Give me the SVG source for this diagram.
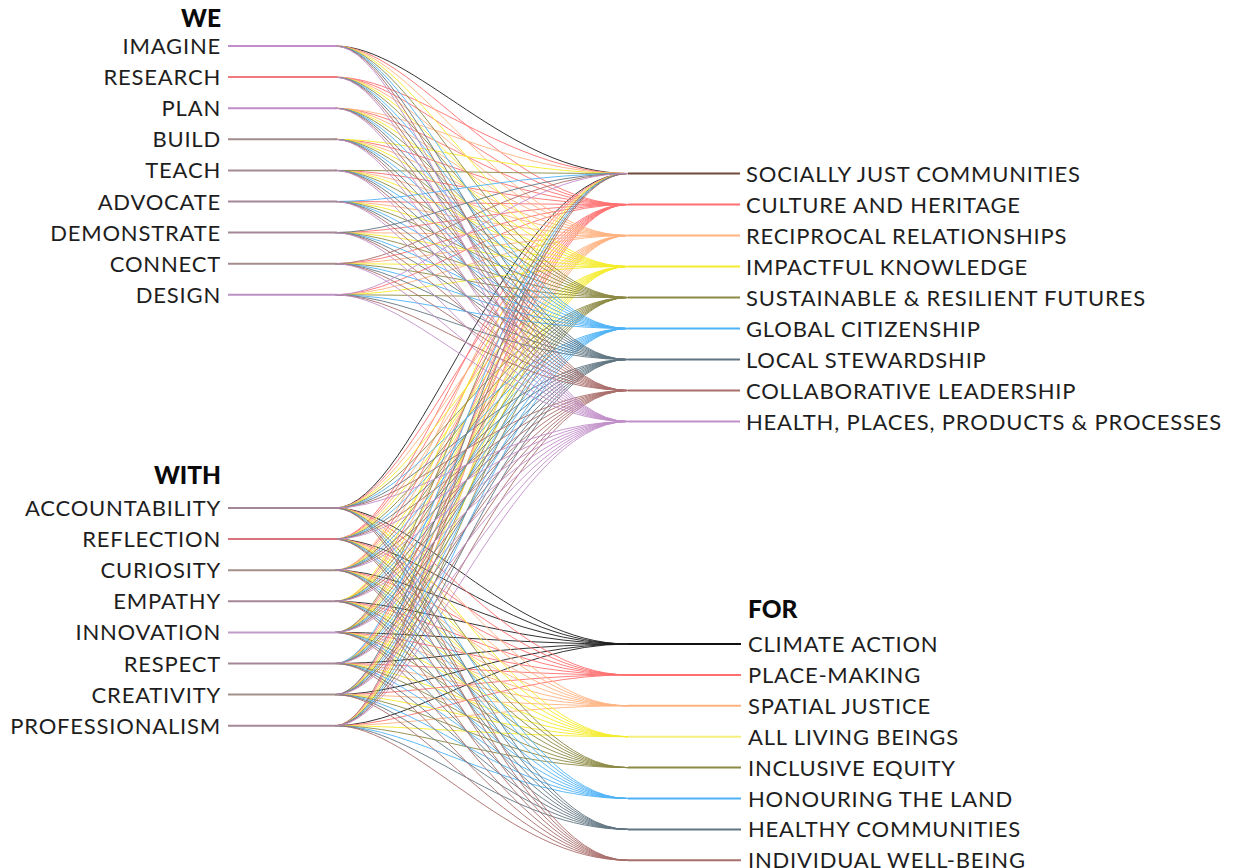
<svg xmlns="http://www.w3.org/2000/svg" width="1238" height="868" viewBox="0 0 1238 868">
<style>
.bg{fill:#ffffff}
.lbl{font-family:Lato,"Liberation Sans",sans-serif;font-size:22px;fill:#1e1e1e;letter-spacing:0.8px}
.hd{font-family:Lato,"Liberation Sans",sans-serif;font-size:24.5px;font-weight:900;fill:#0a0a0a}
.l text{text-anchor:end}
#links path{fill:none;stroke-width:1;stroke-opacity:0.9}
.nl{stroke-width:2;fill:none}
.c0{stroke:#1c1c1c}.c1{stroke:#ff6f6f}.c2{stroke:#ffb27f}.c3{stroke:#f5ec2a}.c4{stroke:#8c8a44}.c5{stroke:#4fb2f7}.c6{stroke:#607582}.c7{stroke:#a86e6a}.c8{stroke:#c18fc9}
</style>
<rect class="bg" width="1238" height="868"/>
<g id="links">
<g class="c0">
<path d="M335 46C415 46 508 173.5 628 173.5"/>
<path d="M335 508C415 508 508 173.5 628 173.5"/>
<path d="M335 508C415 508 508 644 628 644"/>
<path d="M335 539.1C415 539.1 508 644 628 644"/>
<path d="M335 570.2C415 570.2 508 644 628 644"/>
<path d="M335 601.3C415 601.3 508 644 628 644"/>
<path d="M335 632.4C415 632.4 508 644 628 644"/>
<path d="M335 663.5C415 663.5 508 644 628 644"/>
<path d="M335 694.6C415 694.6 508 644 628 644"/>
<path d="M335 725.7C415 725.7 508 644 628 644"/>
</g>
<g class="c1">
<path d="M335 77.1C415 77.1 508 173.5 628 173.5"/>
<path d="M335 539.1C415 539.1 508 173.5 628 173.5"/>
<path d="M335 46C415 46 508 204.5 628 204.5"/>
<path d="M335 77.1C415 77.1 508 204.5 628 204.5"/>
<path d="M335 108.2C415 108.2 508 204.5 628 204.5"/>
<path d="M335 139.3C415 139.3 508 204.5 628 204.5"/>
<path d="M335 170.4C415 170.4 508 204.5 628 204.5"/>
<path d="M335 201.5C415 201.5 508 204.5 628 204.5"/>
<path d="M335 232.6C415 232.6 508 204.5 628 204.5"/>
<path d="M335 263.7C415 263.7 508 204.5 628 204.5"/>
<path d="M335 294.8C415 294.8 508 204.5 628 204.5"/>
<path d="M335 508C415 508 508 204.5 628 204.5"/>
<path d="M335 539.1C415 539.1 508 204.5 628 204.5"/>
<path d="M335 570.2C415 570.2 508 204.5 628 204.5"/>
<path d="M335 601.3C415 601.3 508 204.5 628 204.5"/>
<path d="M335 632.4C415 632.4 508 204.5 628 204.5"/>
<path d="M335 663.5C415 663.5 508 204.5 628 204.5"/>
<path d="M335 694.6C415 694.6 508 204.5 628 204.5"/>
<path d="M335 725.7C415 725.7 508 204.5 628 204.5"/>
<path d="M335 508C415 508 508 674.9 628 674.9"/>
<path d="M335 539.1C415 539.1 508 674.9 628 674.9"/>
<path d="M335 570.2C415 570.2 508 674.9 628 674.9"/>
<path d="M335 601.3C415 601.3 508 674.9 628 674.9"/>
<path d="M335 632.4C415 632.4 508 674.9 628 674.9"/>
<path d="M335 663.5C415 663.5 508 674.9 628 674.9"/>
<path d="M335 694.6C415 694.6 508 674.9 628 674.9"/>
<path d="M335 725.7C415 725.7 508 674.9 628 674.9"/>
</g>
<g class="c2">
<path d="M335 108.2C415 108.2 508 173.5 628 173.5"/>
<path d="M335 570.2C415 570.2 508 173.5 628 173.5"/>
<path d="M335 46C415 46 508 235.5 628 235.5"/>
<path d="M335 77.1C415 77.1 508 235.5 628 235.5"/>
<path d="M335 108.2C415 108.2 508 235.5 628 235.5"/>
<path d="M335 139.3C415 139.3 508 235.5 628 235.5"/>
<path d="M335 170.4C415 170.4 508 235.5 628 235.5"/>
<path d="M335 201.5C415 201.5 508 235.5 628 235.5"/>
<path d="M335 232.6C415 232.6 508 235.5 628 235.5"/>
<path d="M335 263.7C415 263.7 508 235.5 628 235.5"/>
<path d="M335 294.8C415 294.8 508 235.5 628 235.5"/>
<path d="M335 508C415 508 508 235.5 628 235.5"/>
<path d="M335 539.1C415 539.1 508 235.5 628 235.5"/>
<path d="M335 570.2C415 570.2 508 235.5 628 235.5"/>
<path d="M335 601.3C415 601.3 508 235.5 628 235.5"/>
<path d="M335 632.4C415 632.4 508 235.5 628 235.5"/>
<path d="M335 663.5C415 663.5 508 235.5 628 235.5"/>
<path d="M335 694.6C415 694.6 508 235.5 628 235.5"/>
<path d="M335 725.7C415 725.7 508 235.5 628 235.5"/>
<path d="M335 508C415 508 508 705.8 628 705.8"/>
<path d="M335 539.1C415 539.1 508 705.8 628 705.8"/>
<path d="M335 570.2C415 570.2 508 705.8 628 705.8"/>
<path d="M335 601.3C415 601.3 508 705.8 628 705.8"/>
<path d="M335 632.4C415 632.4 508 705.8 628 705.8"/>
<path d="M335 663.5C415 663.5 508 705.8 628 705.8"/>
<path d="M335 694.6C415 694.6 508 705.8 628 705.8"/>
<path d="M335 725.7C415 725.7 508 705.8 628 705.8"/>
</g>
<g class="c3">
<path d="M335 139.3C415 139.3 508 173.5 628 173.5"/>
<path d="M335 601.3C415 601.3 508 173.5 628 173.5"/>
<path d="M335 46C415 46 508 266.5 628 266.5"/>
<path d="M335 77.1C415 77.1 508 266.5 628 266.5"/>
<path d="M335 108.2C415 108.2 508 266.5 628 266.5"/>
<path d="M335 139.3C415 139.3 508 266.5 628 266.5"/>
<path d="M335 170.4C415 170.4 508 266.5 628 266.5"/>
<path d="M335 201.5C415 201.5 508 266.5 628 266.5"/>
<path d="M335 232.6C415 232.6 508 266.5 628 266.5"/>
<path d="M335 263.7C415 263.7 508 266.5 628 266.5"/>
<path d="M335 294.8C415 294.8 508 266.5 628 266.5"/>
<path d="M335 508C415 508 508 266.5 628 266.5"/>
<path d="M335 539.1C415 539.1 508 266.5 628 266.5"/>
<path d="M335 570.2C415 570.2 508 266.5 628 266.5"/>
<path d="M335 601.3C415 601.3 508 266.5 628 266.5"/>
<path d="M335 632.4C415 632.4 508 266.5 628 266.5"/>
<path d="M335 663.5C415 663.5 508 266.5 628 266.5"/>
<path d="M335 694.6C415 694.6 508 266.5 628 266.5"/>
<path d="M335 725.7C415 725.7 508 266.5 628 266.5"/>
<path d="M335 508C415 508 508 736.7 628 736.7"/>
<path d="M335 539.1C415 539.1 508 736.7 628 736.7"/>
<path d="M335 570.2C415 570.2 508 736.7 628 736.7"/>
<path d="M335 601.3C415 601.3 508 736.7 628 736.7"/>
<path d="M335 632.4C415 632.4 508 736.7 628 736.7"/>
<path d="M335 663.5C415 663.5 508 736.7 628 736.7"/>
<path d="M335 694.6C415 694.6 508 736.7 628 736.7"/>
<path d="M335 725.7C415 725.7 508 736.7 628 736.7"/>
</g>
<g class="c4">
<path d="M335 170.4C415 170.4 508 173.5 628 173.5"/>
<path d="M335 632.4C415 632.4 508 173.5 628 173.5"/>
<path d="M335 46C415 46 508 297.5 628 297.5"/>
<path d="M335 77.1C415 77.1 508 297.5 628 297.5"/>
<path d="M335 108.2C415 108.2 508 297.5 628 297.5"/>
<path d="M335 139.3C415 139.3 508 297.5 628 297.5"/>
<path d="M335 170.4C415 170.4 508 297.5 628 297.5"/>
<path d="M335 201.5C415 201.5 508 297.5 628 297.5"/>
<path d="M335 232.6C415 232.6 508 297.5 628 297.5"/>
<path d="M335 263.7C415 263.7 508 297.5 628 297.5"/>
<path d="M335 294.8C415 294.8 508 297.5 628 297.5"/>
<path d="M335 508C415 508 508 297.5 628 297.5"/>
<path d="M335 539.1C415 539.1 508 297.5 628 297.5"/>
<path d="M335 570.2C415 570.2 508 297.5 628 297.5"/>
<path d="M335 601.3C415 601.3 508 297.5 628 297.5"/>
<path d="M335 632.4C415 632.4 508 297.5 628 297.5"/>
<path d="M335 663.5C415 663.5 508 297.5 628 297.5"/>
<path d="M335 694.6C415 694.6 508 297.5 628 297.5"/>
<path d="M335 725.7C415 725.7 508 297.5 628 297.5"/>
<path d="M335 508C415 508 508 767.6 628 767.6"/>
<path d="M335 539.1C415 539.1 508 767.6 628 767.6"/>
<path d="M335 570.2C415 570.2 508 767.6 628 767.6"/>
<path d="M335 601.3C415 601.3 508 767.6 628 767.6"/>
<path d="M335 632.4C415 632.4 508 767.6 628 767.6"/>
<path d="M335 663.5C415 663.5 508 767.6 628 767.6"/>
<path d="M335 694.6C415 694.6 508 767.6 628 767.6"/>
<path d="M335 725.7C415 725.7 508 767.6 628 767.6"/>
</g>
<g class="c5">
<path d="M335 201.5C415 201.5 508 173.5 628 173.5"/>
<path d="M335 663.5C415 663.5 508 173.5 628 173.5"/>
<path d="M335 46C415 46 508 328.5 628 328.5"/>
<path d="M335 77.1C415 77.1 508 328.5 628 328.5"/>
<path d="M335 108.2C415 108.2 508 328.5 628 328.5"/>
<path d="M335 139.3C415 139.3 508 328.5 628 328.5"/>
<path d="M335 170.4C415 170.4 508 328.5 628 328.5"/>
<path d="M335 201.5C415 201.5 508 328.5 628 328.5"/>
<path d="M335 232.6C415 232.6 508 328.5 628 328.5"/>
<path d="M335 263.7C415 263.7 508 328.5 628 328.5"/>
<path d="M335 294.8C415 294.8 508 328.5 628 328.5"/>
<path d="M335 508C415 508 508 328.5 628 328.5"/>
<path d="M335 539.1C415 539.1 508 328.5 628 328.5"/>
<path d="M335 570.2C415 570.2 508 328.5 628 328.5"/>
<path d="M335 601.3C415 601.3 508 328.5 628 328.5"/>
<path d="M335 632.4C415 632.4 508 328.5 628 328.5"/>
<path d="M335 663.5C415 663.5 508 328.5 628 328.5"/>
<path d="M335 694.6C415 694.6 508 328.5 628 328.5"/>
<path d="M335 725.7C415 725.7 508 328.5 628 328.5"/>
<path d="M335 508C415 508 508 798.5 628 798.5"/>
<path d="M335 539.1C415 539.1 508 798.5 628 798.5"/>
<path d="M335 570.2C415 570.2 508 798.5 628 798.5"/>
<path d="M335 601.3C415 601.3 508 798.5 628 798.5"/>
<path d="M335 632.4C415 632.4 508 798.5 628 798.5"/>
<path d="M335 663.5C415 663.5 508 798.5 628 798.5"/>
<path d="M335 694.6C415 694.6 508 798.5 628 798.5"/>
<path d="M335 725.7C415 725.7 508 798.5 628 798.5"/>
</g>
<g class="c6">
<path d="M335 232.6C415 232.6 508 173.5 628 173.5"/>
<path d="M335 694.6C415 694.6 508 173.5 628 173.5"/>
<path d="M335 46C415 46 508 359.5 628 359.5"/>
<path d="M335 77.1C415 77.1 508 359.5 628 359.5"/>
<path d="M335 108.2C415 108.2 508 359.5 628 359.5"/>
<path d="M335 139.3C415 139.3 508 359.5 628 359.5"/>
<path d="M335 170.4C415 170.4 508 359.5 628 359.5"/>
<path d="M335 201.5C415 201.5 508 359.5 628 359.5"/>
<path d="M335 232.6C415 232.6 508 359.5 628 359.5"/>
<path d="M335 263.7C415 263.7 508 359.5 628 359.5"/>
<path d="M335 294.8C415 294.8 508 359.5 628 359.5"/>
<path d="M335 508C415 508 508 359.5 628 359.5"/>
<path d="M335 539.1C415 539.1 508 359.5 628 359.5"/>
<path d="M335 570.2C415 570.2 508 359.5 628 359.5"/>
<path d="M335 601.3C415 601.3 508 359.5 628 359.5"/>
<path d="M335 632.4C415 632.4 508 359.5 628 359.5"/>
<path d="M335 663.5C415 663.5 508 359.5 628 359.5"/>
<path d="M335 694.6C415 694.6 508 359.5 628 359.5"/>
<path d="M335 725.7C415 725.7 508 359.5 628 359.5"/>
<path d="M335 508C415 508 508 829.4 628 829.4"/>
<path d="M335 539.1C415 539.1 508 829.4 628 829.4"/>
<path d="M335 570.2C415 570.2 508 829.4 628 829.4"/>
<path d="M335 601.3C415 601.3 508 829.4 628 829.4"/>
<path d="M335 632.4C415 632.4 508 829.4 628 829.4"/>
<path d="M335 663.5C415 663.5 508 829.4 628 829.4"/>
<path d="M335 694.6C415 694.6 508 829.4 628 829.4"/>
<path d="M335 725.7C415 725.7 508 829.4 628 829.4"/>
</g>
<g class="c7">
<path d="M335 263.7C415 263.7 508 173.5 628 173.5"/>
<path d="M335 725.7C415 725.7 508 173.5 628 173.5"/>
<path d="M335 46C415 46 508 390.5 628 390.5"/>
<path d="M335 77.1C415 77.1 508 390.5 628 390.5"/>
<path d="M335 108.2C415 108.2 508 390.5 628 390.5"/>
<path d="M335 139.3C415 139.3 508 390.5 628 390.5"/>
<path d="M335 170.4C415 170.4 508 390.5 628 390.5"/>
<path d="M335 201.5C415 201.5 508 390.5 628 390.5"/>
<path d="M335 232.6C415 232.6 508 390.5 628 390.5"/>
<path d="M335 263.7C415 263.7 508 390.5 628 390.5"/>
<path d="M335 294.8C415 294.8 508 390.5 628 390.5"/>
<path d="M335 508C415 508 508 390.5 628 390.5"/>
<path d="M335 539.1C415 539.1 508 390.5 628 390.5"/>
<path d="M335 570.2C415 570.2 508 390.5 628 390.5"/>
<path d="M335 601.3C415 601.3 508 390.5 628 390.5"/>
<path d="M335 632.4C415 632.4 508 390.5 628 390.5"/>
<path d="M335 663.5C415 663.5 508 390.5 628 390.5"/>
<path d="M335 694.6C415 694.6 508 390.5 628 390.5"/>
<path d="M335 725.7C415 725.7 508 390.5 628 390.5"/>
<path d="M335 508C415 508 508 860.3 628 860.3"/>
<path d="M335 539.1C415 539.1 508 860.3 628 860.3"/>
<path d="M335 570.2C415 570.2 508 860.3 628 860.3"/>
<path d="M335 601.3C415 601.3 508 860.3 628 860.3"/>
<path d="M335 632.4C415 632.4 508 860.3 628 860.3"/>
<path d="M335 663.5C415 663.5 508 860.3 628 860.3"/>
<path d="M335 694.6C415 694.6 508 860.3 628 860.3"/>
<path d="M335 725.7C415 725.7 508 860.3 628 860.3"/>
</g>
<g class="c8">
<path d="M335 294.8C415 294.8 508 173.5 628 173.5"/>
<path d="M335 46C415 46 508 421.5 628 421.5"/>
<path d="M335 77.1C415 77.1 508 421.5 628 421.5"/>
<path d="M335 108.2C415 108.2 508 421.5 628 421.5"/>
<path d="M335 139.3C415 139.3 508 421.5 628 421.5"/>
<path d="M335 170.4C415 170.4 508 421.5 628 421.5"/>
<path d="M335 201.5C415 201.5 508 421.5 628 421.5"/>
<path d="M335 232.6C415 232.6 508 421.5 628 421.5"/>
<path d="M335 263.7C415 263.7 508 421.5 628 421.5"/>
<path d="M335 294.8C415 294.8 508 421.5 628 421.5"/>
<path d="M335 508C415 508 508 421.5 628 421.5"/>
<path d="M335 539.1C415 539.1 508 421.5 628 421.5"/>
<path d="M335 570.2C415 570.2 508 421.5 628 421.5"/>
<path d="M335 601.3C415 601.3 508 421.5 628 421.5"/>
<path d="M335 632.4C415 632.4 508 421.5 628 421.5"/>
<path d="M335 663.5C415 663.5 508 421.5 628 421.5"/>
<path d="M335 694.6C415 694.6 508 421.5 628 421.5"/>
<path d="M335 725.7C415 725.7 508 421.5 628 421.5"/>
</g>
</g>
<g class="l">
<text class="hd" x="221" y="27">WE</text>
<text class="hd" x="221" y="484">WITH</text>
<g id="n-imagine"><line class="nl" x1="228" y1="46" x2="337" y2="46" stroke="#c08ec8"/><text class="lbl" x="221" y="54">IMAGINE</text></g>
<g id="n-research"><line class="nl" x1="228" y1="77.1" x2="337" y2="77.1" stroke="#f07a7e"/><text class="lbl" x="221" y="85.1">RESEARCH</text></g>
<g id="n-plan"><line class="nl" x1="228" y1="108.2" x2="337" y2="108.2" stroke="#c08ec8"/><text class="lbl" x="221" y="116.2">PLAN</text></g>
<g id="n-build"><line class="nl" x1="228" y1="139.3" x2="337" y2="139.3" stroke="#a48c8c"/><text class="lbl" x="221" y="147.3">BUILD</text></g>
<g id="n-teach"><line class="nl" x1="228" y1="170.4" x2="337" y2="170.4" stroke="#a48a94"/><text class="lbl" x="221" y="178.4">TEACH</text></g>
<g id="n-advocate"><line class="nl" x1="228" y1="201.5" x2="337" y2="201.5" stroke="#a48898"/><text class="lbl" x="221" y="209.5">ADVOCATE</text></g>
<g id="n-demonstrate"><line class="nl" x1="228" y1="232.6" x2="337" y2="232.6" stroke="#a48898"/><text class="lbl" x="221" y="240.6">DEMONSTRATE</text></g>
<g id="n-connect"><line class="nl" x1="228" y1="263.7" x2="337" y2="263.7" stroke="#a48c8c"/><text class="lbl" x="221" y="271.7">CONNECT</text></g>
<g id="n-design"><line class="nl" x1="228" y1="294.8" x2="337" y2="294.8" stroke="#bc92c4"/><text class="lbl" x="221" y="302.8">DESIGN</text></g>
<g id="n-accountability"><line class="nl" x1="228" y1="508" x2="337" y2="508" stroke="#a48898"/><text class="lbl" x="221" y="516">ACCOUNTABILITY</text></g>
<g id="n-reflection"><line class="nl" x1="228" y1="539.1" x2="337" y2="539.1" stroke="#d8747c"/><text class="lbl" x="221" y="547.1">REFLECTION</text></g>
<g id="n-curiosity"><line class="nl" x1="228" y1="570.2" x2="337" y2="570.2" stroke="#a4908a"/><text class="lbl" x="221" y="578.2">CURIOSITY</text></g>
<g id="n-empathy"><line class="nl" x1="228" y1="601.3" x2="337" y2="601.3" stroke="#a48898"/><text class="lbl" x="221" y="609.3">EMPATHY</text></g>
<g id="n-innovation"><line class="nl" x1="228" y1="632.4" x2="337" y2="632.4" stroke="#c09cc8"/><text class="lbl" x="221" y="640.4">INNOVATION</text></g>
<g id="n-respect"><line class="nl" x1="228" y1="663.5" x2="337" y2="663.5" stroke="#a48898"/><text class="lbl" x="221" y="671.5">RESPECT</text></g>
<g id="n-creativity"><line class="nl" x1="228" y1="694.6" x2="337" y2="694.6" stroke="#a4908a"/><text class="lbl" x="221" y="702.6">CREATIVITY</text></g>
<g id="n-professionalism"><line class="nl" x1="228" y1="725.7" x2="337" y2="725.7" stroke="#a48898"/><text class="lbl" x="221" y="733.7">PROFESSIONALISM</text></g>
</g>
<g class="r">
<g id="n-socially"><line class="nl" x1="628" y1="173.5" x2="740" y2="173.5" stroke="#6e4b3a"/><text class="lbl" x="746" y="181.5">SOCIALLY JUST COMMUNITIES</text></g>
<g id="n-culture"><line class="nl" x1="628" y1="204.5" x2="740" y2="204.5" stroke="#ff6f6f"/><text class="lbl" x="746" y="212.5">CULTURE AND HERITAGE</text></g>
<g id="n-reciprocal"><line class="nl" x1="628" y1="235.5" x2="740" y2="235.5" stroke="#ffb27f"/><text class="lbl" x="746" y="243.5">RECIPROCAL RELATIONSHIPS</text></g>
<g id="n-impactful"><line class="nl" x1="628" y1="266.5" x2="740" y2="266.5" stroke="#f5ec2a"/><text class="lbl" x="746" y="274.5">IMPACTFUL KNOWLEDGE</text></g>
<g id="n-sustainable"><line class="nl" x1="628" y1="297.5" x2="740" y2="297.5" stroke="#8c8a44"/><text class="lbl" x="746" y="305.5">SUSTAINABLE &amp; RESILIENT FUTURES</text></g>
<g id="n-global"><line class="nl" x1="628" y1="328.5" x2="740" y2="328.5" stroke="#4fb2f7"/><text class="lbl" x="746" y="336.5">GLOBAL CITIZENSHIP</text></g>
<g id="n-local"><line class="nl" x1="628" y1="359.5" x2="740" y2="359.5" stroke="#607582"/><text class="lbl" x="746" y="367.5">LOCAL STEWARDSHIP</text></g>
<g id="n-collaborative"><line class="nl" x1="628" y1="390.5" x2="740" y2="390.5" stroke="#a86e6a"/><text class="lbl" x="746" y="398.5">COLLABORATIVE LEADERSHIP</text></g>
<g id="n-health"><line class="nl" x1="628" y1="421.5" x2="740" y2="421.5" stroke="#c18fc9"/><text class="lbl" x="746" y="429.5">HEALTH, PLACES, PRODUCTS &amp; PROCESSES</text></g>
<text class="hd" x="748" y="618">FOR</text>
<g id="n-climate"><line class="nl" x1="628" y1="644" x2="741" y2="644" stroke="#111"/><text class="lbl" x="748" y="652">CLIMATE ACTION</text></g>
<g id="n-placemaking"><line class="nl" x1="628" y1="674.9" x2="741" y2="674.9" stroke="#ff6f6f"/><text class="lbl" x="748" y="682.9">PLACE-MAKING</text></g>
<g id="n-spatial"><line class="nl" x1="628" y1="705.8" x2="741" y2="705.8" stroke="#ffb27f"/><text class="lbl" x="748" y="713.8">SPATIAL JUSTICE</text></g>
<g id="n-living"><line class="nl" x1="628" y1="736.7" x2="741" y2="736.7" stroke="#f6f07a"/><text class="lbl" x="748" y="744.7">ALL LIVING BEINGS</text></g>
<g id="n-inclusive"><line class="nl" x1="628" y1="767.6" x2="741" y2="767.6" stroke="#8c8a44"/><text class="lbl" x="748" y="775.6">INCLUSIVE EQUITY</text></g>
<g id="n-honouring"><line class="nl" x1="628" y1="798.5" x2="741" y2="798.5" stroke="#4fb2f7"/><text class="lbl" x="748" y="806.5">HONOURING THE LAND</text></g>
<g id="n-healthy"><line class="nl" x1="628" y1="829.4" x2="741" y2="829.4" stroke="#607582"/><text class="lbl" x="748" y="837.4">HEALTHY COMMUNITIES</text></g>
<g id="n-individual"><line class="nl" x1="628" y1="860.3" x2="741" y2="860.3" stroke="#a86e6a"/><text class="lbl" x="748" y="867.5">INDIVIDUAL WELL-BEING</text></g>
</g>
</svg>
